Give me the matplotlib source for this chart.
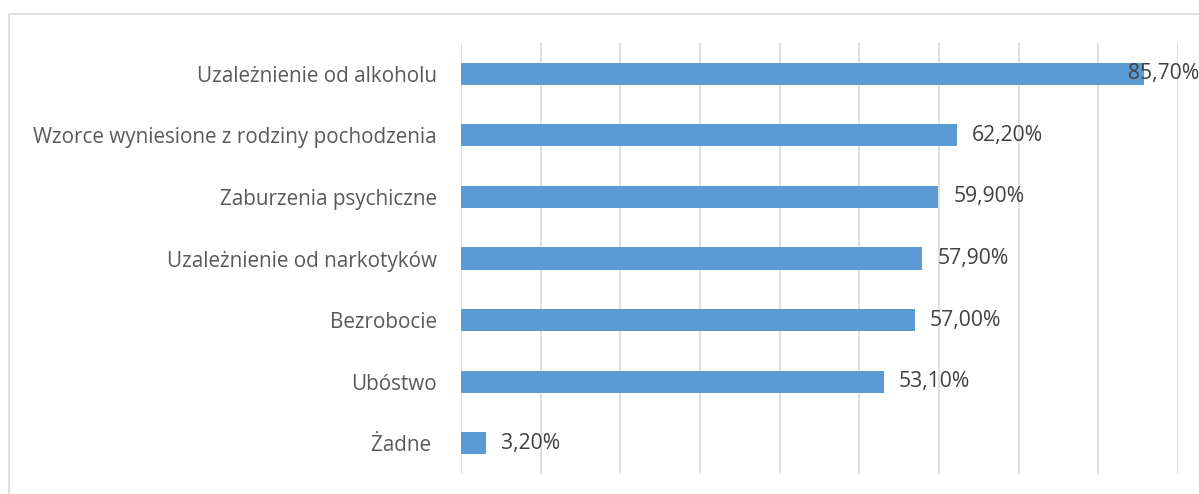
import matplotlib.pyplot as plt
from matplotlib.patches import Rectangle
from matplotlib.transforms import blended_transform_factory

categories = ['Uzależnienie od alkoholu', 'Wzorce wyniesione z rodziny pochodzenia',
              'Zaburzenia psychiczne', 'Uzależnienie od narkotyków', 'Bezrobocie',
              'Ubóstwo', 'Żadne ']
values = [85.7, 62.2, 59.9, 57.9, 57.0, 53.1, 3.2]
value_labels = ['85,70%', '62,20%', '59,90%', '57,90%', '57,00%', '53,10%', '3,20%']
xticks = [0, 10, 20, 30, 40, 50, 60, 70, 80, 90]

plt.rcParams['font.family'] = ['Open Sans', 'DejaVu Sans']

W, H = 1199, 494
fig = plt.figure(figsize=(W / 100, H / 100), dpi=100)
ax = fig.add_axes([461 / W, 1 - 474 / H, (1178 - 461) / W, (474 - 43) / H])

# outer chart border (runs off the right/bottom edge in the original)
fig.patches.append(Rectangle((9 / W, -0.1), 1.2, 1 - 14 / H + 0.1, transform=fig.transFigure,
                             fill=False, edgecolor='#d9d9d9', linewidth=1.2))

y = list(range(len(categories)))
ax.barh(y, values, height=0.36, color='#5b9bd5', zorder=3)

ax.set_xlim(0, 90)
ax.set_ylim(len(categories) - 0.5, -0.5)
ax.set_xticks(xticks)
ax.xaxis.grid(True, color='#d9d9d9', linewidth=1.2, zorder=0)
ax.tick_params(axis='x', bottom=False, labelbottom=False)
ax.tick_params(axis='y', left=False, pad=14, labelsize=14.9, labelcolor='#595959')
ax.set_yticks(y)
ax.set_yticklabels(categories)
for s in ax.spines.values():
    s.set_visible(False)

edge = blended_transform_factory(fig.transFigure, ax.transData)
for yi, v, lab in zip(y, values, value_labels):
    if v > 80:
        # no room on the right: label pushed back over the bar end
        ax.text(1.0, yi, lab, transform=edge, ha='right', va='center',
                fontsize=15.2, color='#404040', zorder=4)
    else:
        ax.annotate(lab, (v, yi), xytext=(15, 0), textcoords='offset pixels',
                    ha='left', va='center', fontsize=15.2, color='#404040', zorder=4)

fig.savefig('out.png', dpi=100)
